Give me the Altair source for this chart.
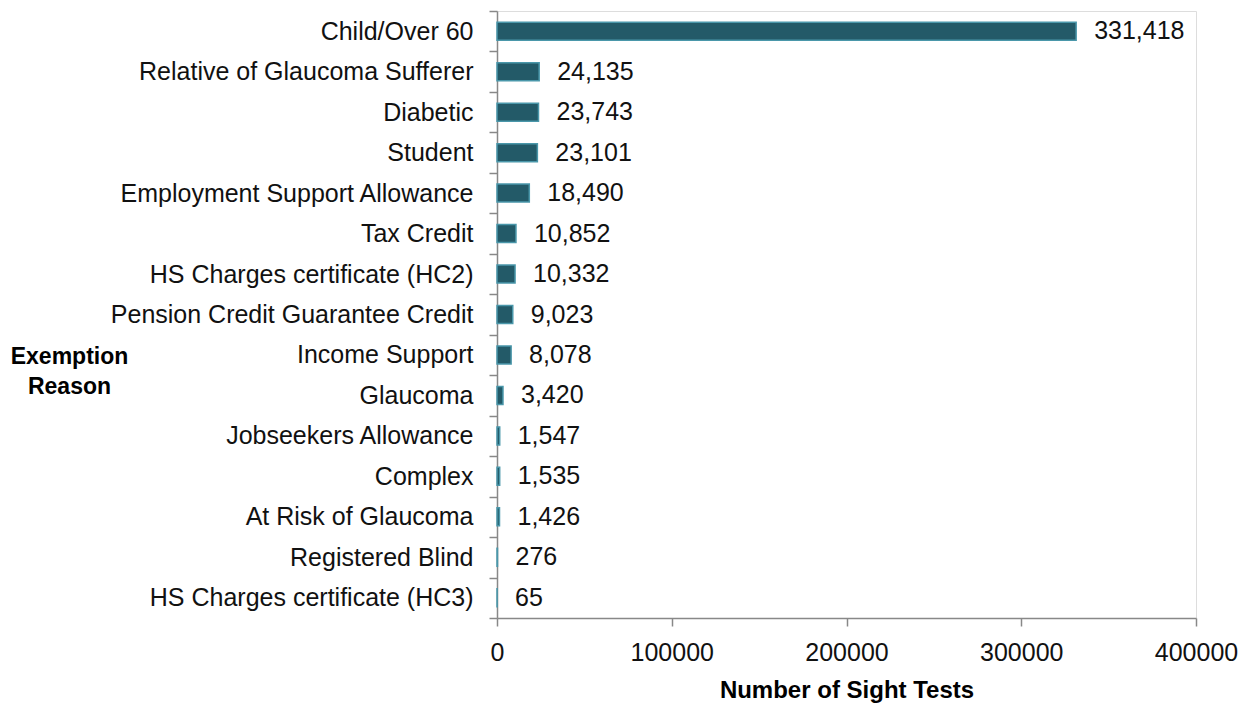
import altair as alt
import pandas as pd

reasons = [
    "Child/Over 60",
    "Relative of Glaucoma Sufferer",
    "Diabetic",
    "Student",
    "Employment Support Allowance",
    "Tax Credit",
    "HS Charges certificate (HC2)",
    "Pension Credit Guarantee Credit",
    "Income Support",
    "Glaucoma",
    "Jobseekers Allowance",
    "Complex",
    "At Risk of Glaucoma",
    "Registered Blind",
    "HS Charges certificate (HC3)",
]
tests = [331418, 24135, 23743, 23101, 18490, 10852, 10332, 9023, 8078, 3420, 1547, 1535, 1426, 276, 65]

df = pd.DataFrame({"reason": reasons, "tests": tests})

FONT = "Liberation Sans"

y = alt.Y(
    "reason:N",
    sort=reasons,
    scale=alt.Scale(paddingInner=0, paddingOuter=0),
    axis=alt.Axis(
        title=["Exemption", "Reason"],
        titleAngle=0,
        titleAlign="center",
        titleBaseline="alphabetic",
        titleX=-428,
        titleY=352,
        titleLineHeight=30,
        titleFont=FONT,
        titleFontSize=23,
        titleFontWeight="bold",
        titleColor="#000000",
        labelFont=FONT,
        labelFontSize=25,
        labelColor="#111111",
        labelPadding=16,
        labelLimit=500,
        tickBand="extent",
        tickSize=8,
        tickColor="#888888",
        tickWidth=1.5,
        domainColor="#888888",
        domainWidth=1.5,
        grid=False,
    ),
)

x = alt.X(
    "tests:Q",
    scale=alt.Scale(domain=[0, 400000], nice=False),
    axis=alt.Axis(
        title="Number of Sight Tests",
        values=[0, 100000, 200000, 300000, 400000],
        format="d",
        titleFont=FONT,
        titleFontSize=24,
        titleFontWeight="bold",
        titleColor="#000000",
        titlePadding=13,
        labelFont=FONT,
        labelFontSize=25,
        labelColor="#111111",
        labelPadding=14,
        labelFlush=False,
        tickSize=8,
        tickColor="#888888",
        tickWidth=1.5,
        domainColor="#888888",
        domainWidth=1.5,
        grid=False,
    ),
)

bars = alt.Chart(df).mark_bar(
    size=18, color="#235a68", stroke="#4a97aa", strokeWidth=1.5
).encode(x=x, y=y)

labels = alt.Chart(df).mark_text(
    align="left", baseline="middle", dx=18, font=FONT, fontSize=25, color="#111111"
).encode(
    x=alt.X("tests:Q"),
    y=alt.Y("reason:N", sort=reasons),
    text=alt.Text("tests:Q", format=","),
)

chart = (
    alt.layer(bars, labels)
    .properties(
        width=699,
        height=607,
        autosize=alt.AutoSizeParams(type="none"),
        padding={"top": 3, "left": 489, "right": 45, "bottom": 85},
    )
    .configure_view(stroke=None)
    .configure(background="#ffffff")
)

chart.save("out.html", embed_options={"renderer": "svg", "actions": False})
